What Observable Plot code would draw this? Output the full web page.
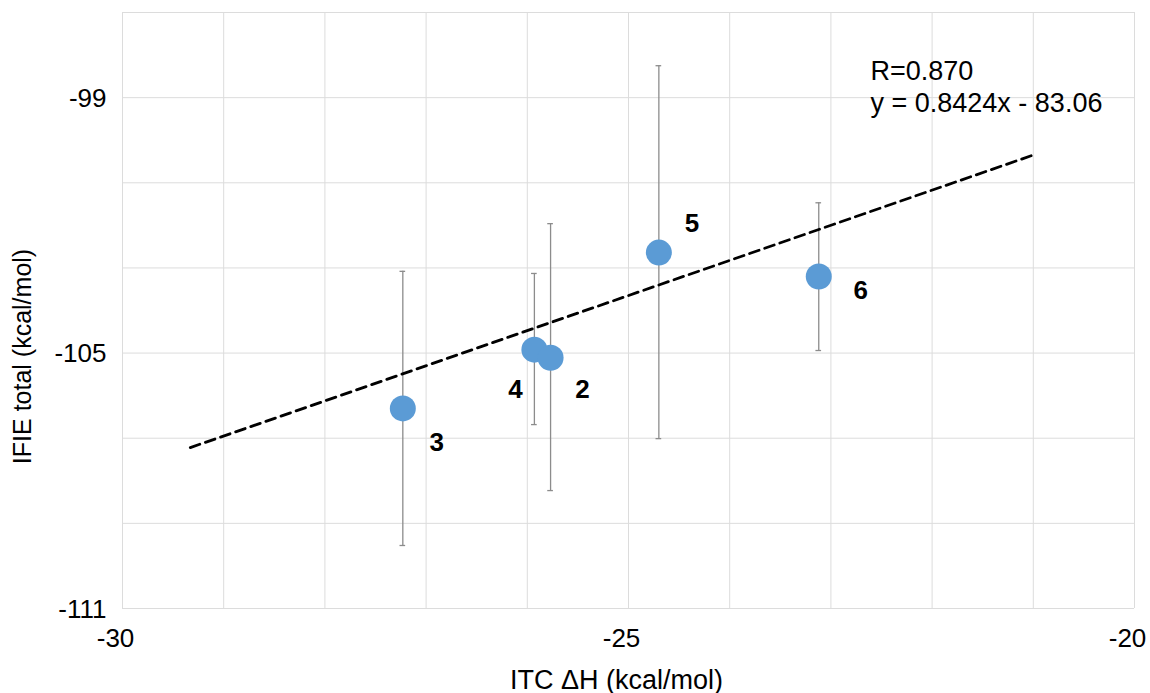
<!DOCTYPE html>
<html><head><meta charset="utf-8">
<script src="https://cdn.jsdelivr.net/npm/d3@7"></script>
<script src="https://cdn.jsdelivr.net/npm/@observablehq/plot@0.6"></script>
<style>body{margin:0;background:#fff} svg{display:block}</style>
</head><body><div id="chart"></div>
<script>
// Data
const compounds = ["3", "4", "2", "5", "6"];
const itcDH     = [-27.23, -25.93, -25.77, -24.70, -23.12];
const ifieTotal = [-106.30, -104.92, -105.11, -102.64, -103.20];
const errHigh   = [-103.08, -103.13, -101.96, -98.25, -101.47];
const errLow    = [-109.52, -106.68, -108.23, -107.01, -104.94];

// Trend line end points (as drawn)
const trendX = [-29.33, -20.99];
const trendY = [-107.22, -100.34];

// Axis ticks and grid
const xTicks = [-30, -25, -20];
const yTicks = [-111, -105, -99];
const xGrid = [-30, -29, -28, -27, -26, -25, -24, -23, -22, -21, -20];
const yGrid = [-111, -109, -107, -105, -103, -101, -99, -97];

const annotation = "R=0.870\ny = 0.8424x - 83.06";
const xLabel = "ITC ΔH (kcal/mol)";
const yLabel = "IFIE total (kcal/mol)";

// label placement (pixel offsets)
const labelDx = [34, -19, 32, 33, 42];
const labelDy = [34, 40, 32, -29, 14];

const pts = compounds.map((c, i) => ({c, x: itcDH[i], y: ifieTotal[i], hi: errHigh[i], lo: errLow[i]}));
const trend = trendX.map((x, i) => ({x, y: trendY[i]}));
const capHalf = 0.028;

const font = "'Liberation Sans', Arial, sans-serif";
const labelMarks = pts.map((p, i) => Plot.text([p], {
  x: "x", y: "y", text: "c", dx: labelDx[i], dy: labelDy[i],
  fontSize: 26, fontWeight: "bold", fill: "#000", textAnchor: "middle", lineAnchor: "middle"
}));

const chart = Plot.plot({
  width: 1150, height: 693,
  marginLeft: 122, marginRight: 16, marginTop: 12, marginBottom: 85,
  x: {domain: [-30, -20]},
  y: {domain: [-111, -97]},
  style: {fontFamily: font, background: "#fff", color: "#000"},
  marks: [
    Plot.ruleX(xGrid, {stroke: "#dcdcdc", strokeWidth: 1}),
    Plot.ruleY(yGrid, {stroke: "#dcdcdc", strokeWidth: 1}),
    Plot.axisX({ticks: xTicks, tickSize: 0, tickPadding: 20, tickFormat: d => String(d), fontSize: 26, dx: -7, label: null}),
    Plot.axisY({ticks: yTicks, tickSize: 0, tickPadding: 16, tickFormat: d => String(d), fontSize: 26, dy: 1, label: null}),
    Plot.ruleX(pts, {x: "x", y1: "lo", y2: "hi", stroke: "#8c8c8c", strokeWidth: 1.3}),
    Plot.ruleY(pts, {y: "hi", x1: d => d.x - capHalf, x2: d => d.x + capHalf, stroke: "#8c8c8c", strokeWidth: 1.3}),
    Plot.ruleY(pts, {y: "lo", x1: d => d.x - capHalf, x2: d => d.x + capHalf, stroke: "#8c8c8c", strokeWidth: 1.3}),
    Plot.line(trend, {x: "x", y: "y", stroke: "#000", strokeWidth: 2.8, strokeDasharray: "10,6"}),
    Plot.dot(pts, {x: "x", y: "y", r: 13, fill: "#5B9BD5", stroke: "none"}),
    ...labelMarks,
    Plot.text([annotation], {frameAnchor: "top-left", dx: 748, dy: 45, fontSize: 27, textAnchor: "start", lineAnchor: "top", lineHeight: 1.19, fill: "#000"}),
    Plot.text([xLabel], {frameAnchor: "bottom", dx: -12, dy: 80, fontSize: 27, textAnchor: "middle", lineAnchor: "bottom", fill: "#000"}),
    Plot.text([yLabel], {frameAnchor: "left", dx: -100, dy: 46, rotate: -90, fontSize: 25, textAnchor: "middle", lineAnchor: "middle", fill: "#000"})
  ]
});
document.getElementById("chart").append(chart);
</script>
</body></html>
